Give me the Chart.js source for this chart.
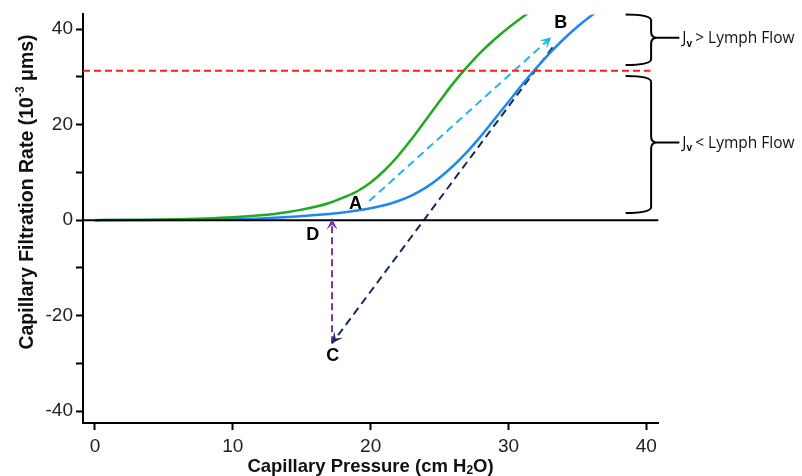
<!DOCTYPE html>
<html>
<head>
<meta charset="utf-8">
<script src="https://cdn.jsdelivr.net/npm/chart.js@4.4.1/dist/chart.umd.min.js"></script>
<style>
  html, body { margin: 0; padding: 0; background: #fff; }
  #c { display: block; }
</style>
</head>
<body>
<canvas id="c" width="802" height="476"></canvas>
<script>
// ---- Data ----
const greenX = [0, 2, 4, 6, 8, 10, 12, 13, 14, 15, 16, 17, 18, 19, 20, 21, 22, 23, 24, 25, 26, 27, 28, 29, 30, 31, 32];
const greenY = [0, 0.03, 0.1, 0.2, 0.35, 0.6, 1.0, 1.3, 1.7, 2.2, 2.8, 3.6, 4.7, 6.0, 7.9, 10.4, 13.5, 17.1, 21.0, 24.9, 28.7, 32.1, 35.2, 37.9, 40.3, 42.5, 44.5];

const blueX = [0, 4, 8, 10, 12, 13, 14, 15, 16, 17, 18, 19, 20, 21, 22, 23, 24, 25, 26, 27, 28, 29, 30, 31, 32, 33, 34, 35, 36, 37];
const blueY = [0, 0.02, 0.1, 0.2, 0.35, 0.5, 0.65, 0.85, 1.05, 1.3, 1.6, 2.0, 2.5, 3.1, 4.0, 5.2, 6.8, 8.9, 11.4, 14.3, 17.6, 21.2, 24.8, 28.4, 31.8, 35.0, 37.9, 40.5, 42.8, 44.8];

const lymphFlow = 31.3;
const lymphX = [-0.87, 40.3];

const zeroX = [-0.87, 40.87];

const arrowAB_X = [19.9, 33.1];
const arrowAB_Y = [4.0, 38.3];
const arrowBC_X = [33.2, 17.2];
const arrowBC_Y = [36.2, -25.8];
const arrowCD_X = [17.2, 17.2];
const arrowCD_Y = [-25.8, 0.3];

const pointLabels = ['A', 'B', 'C', 'D'];
const pointLabelX = [18.9, 33.8, 17.25, 15.8];
const pointLabelY = [3.4, 41.2, -28.4, -3.2];

const xTicks = [0, 10, 20, 30, 40];
const yTicks = [-40, -30, -20, -10, 0, 10, 20, 30, 40];
const yLabelled = [-40, -20, 0, 20, 40];

const xMin = -0.87, xMax = 40.85, yMin = -42.5, yMax = 43.1;

const braceTexts = ['> Lymph Flow', '< Lymph Flow'];

function pts(xs, ys) { return xs.map((x, i) => ({ x: x, y: ys[i] })); }

const FONT = "'Liberation Sans', Arial, sans-serif";

const arrowPlugin = {
  id: 'arrows',
  afterDatasetsDraw(chart) {
    const ctx = chart.ctx;
    chart.data.datasets.forEach((ds, i) => {
      if (!ds.arrowColor) return;
      const meta = chart.getDatasetMeta(i);
      const p = meta.data;
      const a = p[p.length - 2], b = p[p.length - 1];
      const ang = Math.atan2(b.y - a.y, b.x - a.x);
      const L = 11, W = 5.5, N = 6;
      ctx.save();
      ctx.translate(b.x, b.y);
      ctx.rotate(ang);
      ctx.fillStyle = ds.arrowColor;
      ctx.beginPath();
      ctx.moveTo(0, 0);
      ctx.lineTo(-L, -W);
      ctx.lineTo(-N, 0);
      ctx.lineTo(-L, W);
      ctx.closePath();
      ctx.fill();
      ctx.restore();
    });
  }
};

const annotPlugin = {
  id: 'annot',
  afterDraw(chart) {
    const ctx = chart.ctx;
    const xs = chart.scales.x, ys = chart.scales.y;
    // point labels
    ctx.save();
    ctx.fillStyle = '#000';
    ctx.font = "bold 18px " + FONT;
    ctx.textAlign = 'center';
    ctx.textBaseline = 'middle';
    pointLabels.forEach((t, i) => {
      ctx.fillText(t, xs.getPixelForValue(pointLabelX[i]), ys.getPixelForValue(pointLabelY[i]));
    });
    ctx.restore();

    // braces
    const x0 = xs.getPixelForValue(38.5);
    const xv = xs.getPixelForValue(40.35);
    const xt = xs.getPixelForValue(42.4);
    const braces = [
      [ys.getPixelForValue(yMax), ys.getPixelForValue(lymphFlow + 1.2)],
      [ys.getPixelForValue(lymphFlow - 1.1), ys.getPixelForValue(1.5)]
    ];
    ctx.save();
    ctx.strokeStyle = '#000';
    ctx.lineWidth = 2;
    braces.forEach((br, i) => {
      const top = br[0], bot = br[1], mid = (top + bot) / 2 - 2;
      const r = 6;
      ctx.beginPath();
      ctx.moveTo(x0, top);
      ctx.quadraticCurveTo(xv, top, xv, top + r);
      ctx.lineTo(xv, mid - r);
      ctx.quadraticCurveTo(xv, mid, xv + r, mid);
      ctx.lineTo(xt, mid);
      ctx.moveTo(xv + r, mid);
      ctx.quadraticCurveTo(xv, mid, xv, mid + r);
      ctx.lineTo(xv, bot - r);
      ctx.quadraticCurveTo(xv, bot, x0, bot);
      ctx.stroke();
      // text
      const tx = xt + 3;
      ctx.fillStyle = '#111';
      ctx.textBaseline = 'alphabetic';
      ctx.textAlign = 'left';
      ctx.font = "15.5px 'Open Sans', sans-serif";
      ctx.fillText('J', tx, mid + 5.5);
      let w = ctx.measureText('J').width;
      ctx.font = "bold 10px 'Open Sans', sans-serif";
      ctx.fillText('v', tx + w, mid + 9);
      w += ctx.measureText('v').width + 3;
      ctx.font = "15.5px 'Open Sans', sans-serif";
      ctx.fillText(braceTexts[i], tx + w, mid + 5.5);
    });
    ctx.restore();

    // axis titles
    ctx.save();
    ctx.fillStyle = '#111';
    ctx.textBaseline = 'alphabetic';
    ctx.textAlign = 'left';
    // y title
    const yParts = [
      { t: 'Capillary Filtration Rate (10', f: "bold 19.5px " + FONT, dy: 0 },
      { t: '-3', f: "bold 12px " + FONT, dy: -9 },
      { t: ' \u03bcms)', f: "bold 19.5px " + FONT, dy: 0 }
    ];
    let tot = 0;
    yParts.forEach(p => { ctx.font = p.f; p.w = ctx.measureText(p.t).width; tot += p.w; });
    ctx.translate(33, 192);
    ctx.rotate(-Math.PI / 2);
    let cx = -tot / 2;
    yParts.forEach(p => { ctx.font = p.f; ctx.fillText(p.t, cx, p.dy); cx += p.w; });
    ctx.restore();

    ctx.save();
    ctx.fillStyle = '#111';
    ctx.textBaseline = 'alphabetic';
    ctx.textAlign = 'left';
    const xParts = [
      { t: 'Capillary Pressure (cm H', f: "bold 18.5px " + FONT, dy: 0 },
      { t: '2', f: "bold 12px " + FONT, dy: 2 },
      { t: 'O)', f: "bold 18.5px " + FONT, dy: 0 }
    ];
    tot = 0;
    xParts.forEach(p => { ctx.font = p.f; p.w = ctx.measureText(p.t).width; tot += p.w; });
    const xc = (chart.chartArea.left + chart.chartArea.right) / 2;
    cx = xc - tot / 2;
    xParts.forEach(p => { ctx.font = p.f; ctx.fillText(p.t, cx, 471.5 + p.dy); cx += p.w; });
    ctx.restore();
  }
};

const chart = new Chart(document.getElementById('c'), {
  type: 'scatter',
  data: {
    datasets: [
      { data: pts(zeroX, [0, 0]), showLine: true, borderColor: '#000', borderWidth: 2, pointRadius: 0, clip: false },
      { data: pts(lymphX, [lymphFlow, lymphFlow]), showLine: true, borderColor: '#ff1a1a', borderWidth: 2, borderDash: [7, 4], pointRadius: 0 },
      { data: pts(greenX, greenY), showLine: true, borderColor: '#1faa1f', borderWidth: 2.5, pointRadius: 0, cubicInterpolationMode: 'monotone' },
      { data: pts(blueX, blueY), showLine: true, borderColor: '#1e88f0', borderWidth: 2.5, pointRadius: 0, cubicInterpolationMode: 'monotone' },
      { data: pts(arrowAB_X, arrowAB_Y), showLine: true, borderColor: '#22b4ec', borderWidth: 2, borderDash: [8, 5], pointRadius: 0, arrowColor: '#22b4ec' },
      { data: pts(arrowBC_X, arrowBC_Y), showLine: true, borderColor: '#172a5e', borderWidth: 2, borderDash: [8, 5], pointRadius: 0, arrowColor: '#172a5e' },
      { data: pts(arrowCD_X, arrowCD_Y), showLine: true, borderColor: '#7434a6', borderWidth: 2, borderDash: [7, 4], pointRadius: 0, arrowColor: '#7434a6' }
    ]
  },
  options: {
    responsive: false,
    animation: false,
    layout: { padding: { top: 12, right: 144, left: 0, bottom: 0 } },
    plugins: { legend: { display: false }, tooltip: { enabled: false } },
    scales: {
      x: {
        type: 'linear', min: xMin, max: xMax,
        afterBuildTicks: s => { s.ticks = xTicks.map(v => ({ value: v })); },
        afterFit: s => { s.height = 53; },
        grid: { drawOnChartArea: false, drawTicks: true, tickLength: 7, tickWidth: 2, tickColor: '#000' },
        border: { display: true, color: '#000', width: 2 },
        ticks: { color: '#222', font: { family: FONT, size: 19 }, padding: 5, maxRotation: 0 }
      },
      y: {
        type: 'linear', min: yMin, max: yMax,
        afterBuildTicks: s => { s.ticks = yTicks.map(v => ({ value: v })); },
        afterFit: s => { s.width = 83; },
        grid: { drawOnChartArea: false, drawTicks: true, tickLength: 7, tickWidth: 2, tickColor: '#000' },
        border: { display: true, color: '#000', width: 2 },
        ticks: { color: '#222', font: { family: FONT, size: 19 }, padding: 3,
          callback: v => yLabelled.includes(v) ? String(v) : '' }
      }
    }
  },
  plugins: [arrowPlugin, annotPlugin]
});
</script>
</body>
</html>
